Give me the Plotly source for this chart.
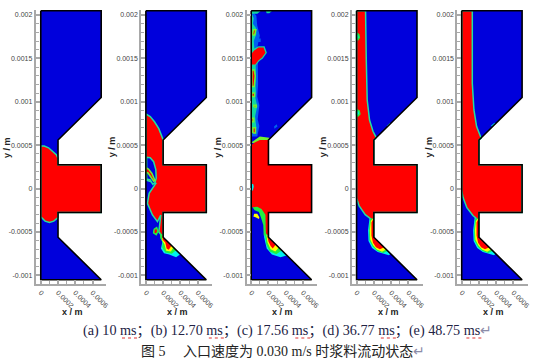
import numpy as np
import plotly.graph_objects as go

# Geometry and contour outlines: x, y in micrometres
domain = [(0,2050),(700,2050),(700,1050),(200,560),(200,275),(700,275),(700,-275),(200,-275),(200,-560),(700,-1050),(0,-1050)]

a_red = [(0,490),(40,490),(90,470),(140,430),(180,390),(200,350),(200,275),(700,275),(700,-275),(200,-275),(200,-335),(150,-375),(100,-390),(50,-375),(0,-325)]

b_red = [(0,860),(50,830),(100,770),(150,690),(190,590),(200,560),(200,275),(700,275),(700,-275),(200,-275),(200,-560),(175,-530),(150,-500),(173,-304),(134,-381),(76,-304),(18,-170),(38,-54),(115,61),(0,100)]
b_hole = [(8,360),(50,355),(90,310),(115,220),(120,120),(105,70),(80,50),(50,100),(8,110)]
b_streak = [(0,240),(30,225),(70,175),(105,95),(90,85),(60,125),(25,180),(0,190)]
b_blob_g = [(95,-470),(125,-450),(140,-490),(120,-530),(90,-510)]
b_tail_c = [(170,-540),(200,-560),(400,-755),(350,-790),(270,-760),(210,-745),(175,-690),(190,-620)]
b_tail_g = [(165,-500),(200,-560),(350,-710),(300,-750),(225,-735),(190,-680),(195,-620),(165,-570)]
b_tail_y = [(185,-530),(200,-560),(320,-680),(290,-725),(235,-715),(215,-640),(190,-600)]
b_tail_r = [(190,-530),(200,-560),(295,-660),(265,-705),(240,-690),(225,-620),(195,-590)]

c_red = [(0,500),(40,530),(100,560),(200,560),(200,275),(700,275),(700,-275),(200,-275),(200,-540),(165,-520),(155,-390),(120,-260),(70,-220),(0,-215)]
c_arc = [(165,-300),(120,-235),(70,-210),(15,-215),(40,-250),(90,-270),(115,-340),(140,-420),(145,-540),(170,-540)]
c_arc_y = [(35,-290),(70,-290),(95,-330),(90,-350),(50,-330),(25,-320)]
c_mid = [(0,60),(25,50),(30,20),(20,-20),(0,-30)]
c_sprout = [(0,530),(50,560),(100,600),(210,585),(200,555),(100,545),(40,520)]
c_big_g = [(0,1410),(50,1415),(95,1470),(135,1500),(182,1566),(155,1640),(85,1640),(30,1610),(0,1570)]
c_big_r = [(8,1430),(47,1430),(85,1480),(125,1510),(165,1566),(143,1625),(85,1625),(35,1590),(8,1560)]
c_band_g = [(0,640),(30,640),(60,700),(55,770),(45,830),(70,950),(45,1060),(55,1120),(50,1190),(55,1370),(30,1700),(60,1780),(55,1850),(20,1900),(30,1960),(15,2000),(0,2000)]
c_band_c = [(0,600),(70,600),(95,720),(75,800),(95,960),(70,1060),(80,1200),(75,1400),(75,1650),(100,1760),(70,1880),(60,1990),(20,2040),(0,2040)]
c_top = [(0,2045),(110,2045),(70,2015),(10,2015)]
c_top2 = [(170,2045),(240,2045),(210,2020),(180,2020)]
c_blob1 = [(8,1175),(35,1175),(47,1300),(35,1367),(8,1367)]
c_blob2 = [(8,1060),(40,1060),(40,1100),(8,1100)]
c_blob3 = [(30,940),(60,940),(60,960),(30,960)]
c_blob4 = [(8,770),(30,770),(30,810),(8,810)]
c_blob5 = [(20,640),(50,640),(50,700),(20,700)]
c_blob6 = [(15,1770),(40,1770),(55,1830),(25,1830)]
c_spot1 = [(270,690),(305,715),(295,740),(265,715)]
c_spot2 = [(70,1690),(110,1690),(110,1730),(75,1730)]
c_tail_c = [(150,-430),(165,-370),(200,-560),(410,-770),(340,-790),(240,-760),(180,-690),(150,-560)]
c_tail_g = [(155,-500),(175,-520),(200,-560),(350,-715),(290,-755),(215,-725),(175,-640)]
c_tail_y = [(175,-530),(200,-565),(320,-680),(280,-725),(225,-700),(190,-620)]
c_tail_r = [(185,-530),(200,-565),(285,-645),(250,-690),(225,-660),(200,-610)]

d_red = [(0,2050),(104,2050),(112,1500),(123,1020),(150,790),(190,660),(228,588),(200,560),(200,275),(700,275),(700,-275),(200,-275),(200,-560),(170,-520),(165,-350),(100,-300),(30,-200),(0,-110)]
d_bub1 = [(0,1725),(15,1715),(32,1740),(25,1775),(8,1785),(0,1770)]
d_bub2 = [(0,845),(15,835),(38,860),(30,895),(10,905),(0,890)]
d_streak = [(360,715),(395,748),(385,755),(350,722)]
e_red = [(0,2050),(123,2050),(123,1213),(142,906),(173,714),(226,580),(200,560),(200,275),(700,275),(700,-275),(200,-275),(200,-560),(170,-520),(165,-340),(130,-310),(60,-220),(15,-100),(0,-20)]
e_streak = [(350,715),(390,750),(380,758),(340,725)]
tail_c = [(150,-340),(200,-340),(200,-560),(392,-750),(375,-768),(320,-752),(245,-730),(180,-685),(138,-605),(133,-480)]
tail_g = [(155,-350),(200,-340),(200,-560),(360,-715),(310,-742),(240,-718),(188,-670),(148,-595),(143,-480)]
tail_y = [(165,-370),(200,-340),(200,-560),(345,-700),(295,-728),(235,-702),(192,-652),(158,-585),(153,-480)]
tail_r = [(172,-390),(200,-340),(200,-560),(320,-675),(270,-700),(225,-675),(190,-625),(172,-540)]

panel_left_px = [36, 142, 248, 354, 460]
panel_zero_px = [41.0, 146.7, 252.6, 358.6, 464.3]
x_tick_vals = [0, 0.0002, 0.0004, 0.0006]
x_tick_text = ["0", "0.0002", "0.0004", "0.0006"]
y_tick_vals = [-0.001, -0.0005, 0, 0.0005, 0.001, 0.0015, 0.002]
y_tick_text = ["-0.001", "-0.0005", "0", "0.0005", "0.001", "0.0015", "0.002"]
caption_1 = "(a) 10 ms；(b) 12.70 ms；(c) 17.56 ms；(d) 36.77 ms；(e) 48.75 ms"
caption_2 = "图 5\u00a0\u00a0\u00a0\u00a0\u00a0入口速度为 0.030 m/s 时浆料流动状态"
para_mark = "↵"

W, H = 534, 360
PX_PER_M = 86.8e3
BOX_TOP, BOX_BOTTOM, BOX_W = 10, 284, 71
Y_ZERO_PX = 188.6

BLUE, CYAN, GREEN, YELLOW, RED = "#0000DC", "#00F0F0", "#20F040", "#FFFF00", "#FF0000"
RIM = "#20E0A0"
HAZE = "#0060F0"
TEAL = "#10D8A0"
LIME = "#70F030"

layers = [
    [(a_red, RED, RIM)],
    [(b_tail_c, CYAN, None), (b_red, RED, RIM), (b_tail_g, GREEN, None), (b_tail_y, YELLOW, None),
     (b_tail_r, RED, None), (b_hole, BLUE, RIM), (b_streak, RED, LIME), (b_blob_g, RED, GREEN)],
    [(c_band_c, HAZE, None), (c_band_g, TEAL, None), (c_top, TEAL, None), (c_top2, TEAL, None),
     (c_blob6, RED, LIME), (c_blob1, RED, LIME), (c_blob2, RED, LIME), (c_blob3, RED, LIME),
     (c_blob4, RED, LIME), (c_blob5, RED, LIME), (c_big_g, TEAL, None), (c_big_r, RED, None),
     (c_spot1, HAZE, None), (c_spot2, HAZE, None), (c_sprout, LIME, None), (c_tail_c, CYAN, None), (c_red, RED, None),
     (c_tail_g, GREEN, None), (c_tail_y, YELLOW, None), (c_tail_r, RED, None), (c_arc, GREEN, None),
     (c_arc_y, YELLOW, None), (c_mid, CYAN, None)],
    [(d_streak, CYAN, None), (tail_c, CYAN, None), (d_red, RED, RIM),
     (tail_g, GREEN, None), (tail_y, YELLOW, None), (tail_r, RED, None), (d_bub1, CYAN, GREEN), (d_bub2, CYAN, GREEN)],
    [(e_streak, CYAN, None), (tail_c, CYAN, None), (e_red, RED, RIM), (tail_g, GREEN, None), (tail_y, YELLOW, None), (tail_r, RED, None)],
]

fig = go.Figure()

def poly(points, axis_id, fill, line, width=1.5):
    pts = np.array(points + points[:1], dtype=float) * 1e-6
    fig.add_trace(go.Scatter(
        x=pts[:, 0], y=pts[:, 1], xaxis=f"x{axis_id}", yaxis=f"y{axis_id}",
        mode="lines", fill="toself" if fill else None, fillcolor=fill,
        line=dict(color=line or fill, width=width if line else 0),
        hoverinfo="skip", showlegend=False))

layout = dict(width=W, height=H, margin=dict(l=0, r=0, t=0, b=0), paper_bgcolor="white", plot_bgcolor="white",
              autosize=False, annotations=[], shapes=[])
AX = "#A8A8A8"
TICKF = dict(family="Liberation Sans", size=7, color="#444444")

def note(text, px, py, **font):
    layout["annotations"].append(dict(text=text, x=px / W, y=1 - py / H, xref="paper", yref="paper", xanchor="center",
                                      yanchor="middle", showarrow=False, textangle=font.pop("angle", 0), font=font))

for i, (left, zero) in enumerate(zip(panel_left_px, panel_zero_px)):
    k = i + 1
    poly(domain, k, BLUE, None)
    for pts, fill, line in layers[i]:
        poly(pts, k, fill, line)
    poly(domain, k, None, "#000000", 1.6)
    xr = [(left - zero) / PX_PER_M, (left + BOX_W - zero) / PX_PER_M]
    yr = [(Y_ZERO_PX - BOX_BOTTOM) / PX_PER_M, (Y_ZERO_PX - BOX_TOP) / PX_PER_M]
    layout[f"xaxis{k}"] = dict(
        domain=[left / W, (left + BOX_W) / W], range=xr, anchor=f"y{k}", showgrid=False, zeroline=False,
        showline=True, linecolor=AX, linewidth=2, ticks="inside", ticklen=4, tickwidth=1.5, tickcolor=AX,
        tickmode="array", tickvals=x_tick_vals, ticktext=x_tick_text, tickangle=45, tickfont=TICKF,
        minor=dict(ticks="inside", ticklen=3, tickwidth=1, tickcolor=AX, tickvals=[0.0001, 0.0003, 0.0005]))
    layout[f"yaxis{k}"] = dict(
        domain=[1 - BOX_BOTTOM / H, 1 - BOX_TOP / H], range=yr, anchor=f"x{k}", showgrid=False, zeroline=False,
        showline=True, linecolor=AX, linewidth=2, ticks="inside", ticklen=4, tickwidth=1.5, tickcolor=AX,
        tickmode="array", tickvals=y_tick_vals, ticktext=y_tick_text, tickfont=TICKF,
        minor=dict(ticks="inside", ticklen=3, tickwidth=1, tickcolor=AX, dtick=0.0001, tick0=0))
    note("<b>x / m</b>", left + 36.5, 312, family="Liberation Sans", size=9, color="#222222")
    note("<b>y / m</b>", left - 29, 147, family="Liberation Sans", size=9, color="#222222", angle=-90)

SERIF = "Liberation Serif, Noto Sans CJK SC"
MARK = f'<span style="color:#8C8CA8">{para_mark}</span>'
note(caption_1 + MARK, 289, 330, family=SERIF, size=14.2, color="#222244")
note(caption_2 + MARK, 285, 351, family=SERIF, size=14, color="#222222")

# Proofing squiggles under each "ms"
for x0_px, x1_px in [(122.7, 138), (210, 225.7), (297, 312), (383, 399), (469, 485)]:
    layout["shapes"].append(dict(type="line", xref="paper", yref="paper", x0=x0_px / W, x1=x1_px / W,
                                 y0=1 - 338 / H, y1=1 - 338 / H, line=dict(color="#E03030", width=1.2, dash="dot")))

fig.update_layout(**layout)
fig.write_html("out.html", post_script="document.body.style.margin='0';", config={"displayModeBar": False})
